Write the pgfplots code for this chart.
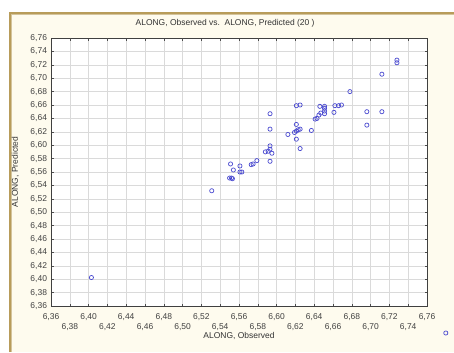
\documentclass[border=0pt]{standalone}
\usepackage{pgfplots}
\pgfplotsset{compat=1.18}
\usepackage{fontspec}
\setmainfont{Liberation Sans}
\definecolor{cream}{HTML}{FEFBEE}
\definecolor{gold}{HTML}{B89C5A}
\definecolor{mk}{HTML}{4A4AD0}
\definecolor{gridc}{HTML}{DADADA}
\begin{document}
\begin{tikzpicture}[x=1bp,y=1bp]
\useasboundingbox (0,0) rectangle (454,352);
\fill[white] (0,0) rectangle (454,352);
\fill[cream] (10,0) rectangle (454,339);
\draw[gold, line width=2.5bp] (10,0) -- (10,339) -- (454,339);
\draw[gold!60!white, line width=1bp] (11.8,0) -- (11.8,337.2) -- (454,337.2);
\begin{axis}[
  at={(51bp,46bp)}, anchor=south west,
  scale only axis, width=376bp, height=268bp,
  xmin=6.36, xmax=6.76, ymin=6.36, ymax=6.76,
  clip=false,
  axis background/.style={fill=white},
  axis line style={draw=black!75, line width=0.8bp},
  grid=major, major grid style={draw=gridc, line width=0.5bp},
  tick align=inside, major tick length=2.5bp,
  tick style={draw=black!70, line width=0.6bp},
  xtick={6.36,6.40,...,6.761},
  xticklabels={{6,36},{6,40},{6,44},{6,48},{6,52},{6,56},{6,60},{6,64},{6,68},{6,72},{6,76}},
  extra x ticks={6.38,6.42,...,6.741},
  extra x tick labels={{6,38},{6,42},{6,46},{6,50},{6,54},{6,58},{6,62},{6,66},{6,70},{6,74}},
  extra x tick style={tick label style={yshift=-10bp}},
  ytick={6.36,6.38,...,6.761},
  yticklabel={\pgfmathprintnumber[fixed,fixed zerofill,precision=2,use comma,assume math mode=true]{\tick}},
  xticklabel style={yshift=-4bp},
  tick label style={font=\fontsize{8.5}{10}\selectfont, text=black!75},
  yticklabel style={xshift=-0.5bp},
  title={ALONG, Observed vs.\ \ ALONG, Predicted (20 )},
  title style={at={(axis description cs:0.463,1.034)}, anchor=center, font=\fontsize{8.5}{10}\selectfont, text=black!80},
  xlabel={ALONG, Observed},
  xlabel style={at={(axis description cs:0.5,-0.112)}, anchor=center, font=\fontsize{8.5}{10}\selectfont, text=black!80},
  ylabel={ALONG, Predicted},
  ylabel style={at={(axis description cs:-0.095,0.5)}, anchor=center, font=\fontsize{8.5}{10}\selectfont, text=black!80},
]
\addplot[only marks, mark=o, mark size=2.1bp, mark options={draw=mk, line width=0.7bp}] coordinates {
(6.531,6.532)
(6.551,6.572) (6.554,6.563)
(6.550,6.551) (6.552,6.551) (6.553,6.550)
(6.561,6.569) (6.561,6.560) (6.563,6.560)
(6.573,6.571) (6.575,6.572) (6.579,6.577)
(6.588,6.590) (6.591,6.591) (6.593,6.594) (6.595,6.588) (6.593,6.576)
(6.593,6.599) (6.593,6.624) (6.593,6.647)
(6.612,6.616)
(6.619,6.619) (6.621,6.621) (6.625,6.624) (6.623,6.623) (6.621,6.631) (6.621,6.609) (6.625,6.595)
(6.621,6.659) (6.625,6.660)
(6.637,6.622)
(6.641,6.639) (6.643,6.640) (6.645,6.645) (6.647,6.648) (6.651,6.647) (6.651,6.651)
(6.646,6.658) (6.651,6.658) (6.651,6.655)
(6.661,6.649)
(6.662,6.659) (6.666,6.659) (6.669,6.660)
(6.678,6.680)
(6.696,6.650) (6.696,6.630)
(6.712,6.650) (6.712,6.706)
(6.728,6.727) (6.728,6.723)
(6.403,6.4025)
(6.780,6.3197)
};
\end{axis}
\end{tikzpicture}
\end{document}
